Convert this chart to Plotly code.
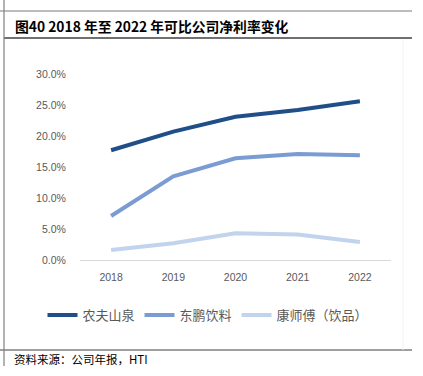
import plotly.graph_objects as go

W, H = 423, 376
years = ["2018", "2019", "2020", "2021", "2022"]
nongfu = [17.7, 20.7, 23.1, 24.2, 25.6]
dongpeng = [7.1, 13.5, 16.4, 17.1, 16.9]
kangshifu = [1.6, 2.7, 4.3, 4.1, 2.9]
series_names = ["农夫山泉", "东鹏饮料", "康师傅（饮品）"]
colors = ["#1F4E89", "#7B9CD3", "#C1D3ED"]
ytick_vals = [0, 5, 10, 15, 20, 25, 30]
ytick_text = ["0.0%", "5.0%", "10.0%", "15.0%", "20.0%", "25.0%", "30.0%"]

def px(x):
    return x / W

def py(y):
    return 1 - y / H

fig = go.Figure()
for name, vals, c in zip(series_names, [nongfu, dongpeng, kangshifu], colors):
    fig.add_trace(go.Scatter(x=years, y=vals, mode="lines", name=name,
                             line=dict(color=c, width=4)))

axis_font = dict(family="Liberation Sans, Arial, sans-serif", size=10.5, color="#595959")
fig.update_layout(
    width=W, height=H,
    margin=dict(l=0, r=0, t=0, b=0),
    paper_bgcolor="white", plot_bgcolor="white",
    showlegend=True,
    legend=dict(orientation="h", x=px(208), xanchor="center", y=py(315), yanchor="middle",
                font=dict(family="Noto Sans CJK SC", size=13, color="#595959"),
                itemwidth=30, tracegroupgap=0, bgcolor="rgba(0,0,0,0)"),
    xaxis=dict(domain=[px(80), px(391)], range=[-0.5, 4.5], type="category",
               showgrid=False, zeroline=False, showline=True, linecolor="#D9D9D9", linewidth=1,
               ticks="outside", ticklen=7, tickcolor="rgba(0,0,0,0)",
               tickfont=axis_font, automargin=False, fixedrange=True),
    yaxis=dict(domain=[py(260), py(74)], range=[0, 30],
               tickvals=ytick_vals, ticktext=ytick_text,
               showgrid=False, zeroline=False, showline=False,
               ticks="outside", ticklen=11, tickcolor="rgba(0,0,0,0)",
               tickfont=axis_font, automargin=False, fixedrange=True),
)

shapes = [
    dict(type="line", xref="paper", yref="paper", x0=0, x1=px(412), y0=py(11), y1=py(11),
         line=dict(color="#A6A6A6", width=1.5)),
    dict(type="line", xref="paper", yref="paper", x0=px(4), x1=px(412), y0=py(38), y1=py(38),
         line=dict(color="#404040", width=1.5)),
    dict(type="line", xref="paper", yref="paper", x0=px(0), x1=px(412), y0=py(350), y1=py(350),
         line=dict(color="#808080", width=1.5)),
    dict(type="line", xref="paper", yref="paper", x0=px(4), x1=px(4), y0=py(0), y1=py(366),
         line=dict(color="#808080", width=1.2)),
    dict(type="line", xref="paper", yref="paper", x0=px(403), x1=px(403), y0=py(39), y1=py(350),
         line=dict(color="#F2F2F2", width=1)),
]
fig.update_layout(shapes=shapes)

fig.add_annotation(text="<b>图40 2018 年至 2022 年可比公司净利率变化</b>", xref="paper", yref="paper",
                   x=px(13), y=py(26), xanchor="left", yanchor="middle", showarrow=False,
                   font=dict(family="Noto Sans CJK SC", size=13.8, color="#000000"))
fig.add_annotation(text="资料来源：公司年报，HTI", xref="paper", yref="paper",
                   x=px(12), y=py(359), xanchor="left", yanchor="middle", showarrow=False,
                   font=dict(family="Noto Sans CJK SC", size=11.5, color="#000000"))

fig.write_html("out.html", config={"displayModeBar": False},
               post_script="document.body.style.margin='0px';")
